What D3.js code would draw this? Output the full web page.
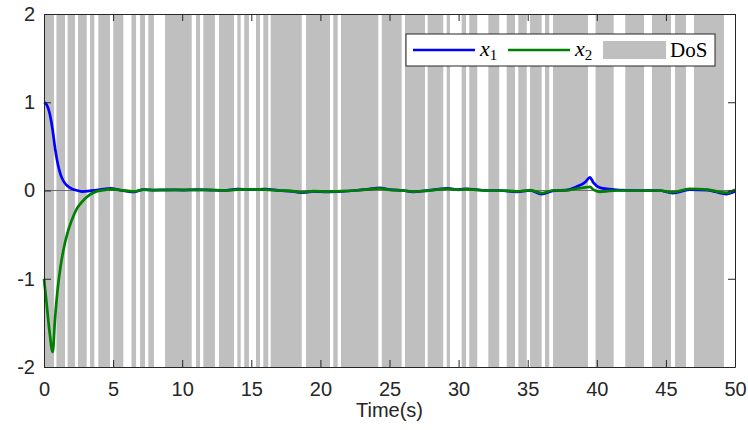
<!DOCTYPE html>
<html>
<head>
<meta charset="utf-8">
<script src="https://cdn.jsdelivr.net/npm/d3@7"></script>
<style>
  body { margin: 0; background: #fff; }
  svg { display: block; }
  .tick text { font-family: "Liberation Sans", Arial, sans-serif; }
</style>
</head>
<body>
<div id="chart"></div>
<script>
// time samples (s)
const time = [0, 0.2, 0.4, 0.63, 0.8, 1.0, 1.2, 1.4, 1.7, 2.0, 2.4, 2.8, 3.3, 3.8, 4.3, 4.8, 5.5, 6.5, 7.2, 8, 9, 10, 11, 12, 13, 14, 15, 16, 17, 18, 18.6, 19.5, 20.5, 21.5, 22.5, 23.5, 24.3, 25, 26, 26.7, 27.5, 28.3, 29.2, 30, 30.6, 31.3, 32, 33, 34.2, 35.2, 36, 36.8, 38, 38.5, 39.2, 39.5, 39.75, 40.2, 40.9, 41.6, 43, 44.5, 45.5, 46.7, 48, 49.4, 50];

// state x1
const x1 = [1.0, 0.97, 0.88, 0.68, 0.48, 0.3, 0.18, 0.11, 0.05, 0.02, 0.0, -0.012, -0.005, 0.005, 0.015, 0.025, 0.005, -0.015, 0.01, 0.005, 0.008, 0.005, 0.01, 0.005, 0.0, 0.015, 0.01, 0.015, 0.0, -0.01, -0.025, -0.01, -0.015, -0.01, 0.0, 0.015, 0.03, 0.01, 0.0, -0.015, -0.005, 0.01, 0.025, 0.01, 0.02, 0.01, 0.0, 0.0, -0.015, 0.0, -0.04, -0.005, 0.01, 0.04, 0.1, 0.15, 0.09, 0.035, 0.015, 0.005, 0.0, 0.0, -0.03, 0.01, 0.005, -0.04, -0.01];

// state x2
const x2 = [-1.0, -1.3, -1.6, -1.83, -1.45, -1.1, -0.86, -0.68, -0.48, -0.34, -0.2, -0.12, -0.05, -0.01, 0.005, 0.015, 0.005, -0.01, 0.01, 0.005, 0.005, 0.008, 0.005, 0.008, 0.0, 0.01, 0.012, 0.01, 0.0, -0.008, -0.02, -0.008, -0.012, -0.008, 0.0, 0.012, 0.025, 0.008, 0.0, -0.012, -0.005, 0.008, 0.02, 0.008, 0.015, 0.008, 0.0, 0.0, -0.01, 0.005, -0.03, 0.0, 0.005, 0.02, 0.035, 0.04, 0.01, -0.015, -0.005, 0.0, 0.0, 0.0, -0.02, 0.02, 0.01, -0.025, 0.01];

// DoS attack intervals (s)
const dosStart = [0, 0.9, 1.71, 2.46, 3.33, 3.93, 5.01, 6.33, 6.95, 7.55, 8.76, 11.0, 11.53, 12.66, 13.99, 14.49, 15.34, 15.87, 16.4, 18.96, 20.93, 21.49, 24.44, 26.12, 27.76, 29.14, 30.22, 30.77, 32.15, 33.48, 34.32, 35.17, 36.25, 36.83, 39.91, 42.06, 43.99, 45.66, 47.03];
const dosEnd = [0.72, 1.52, 2.24, 3.09, 3.64, 4.78, 5.74, 6.66, 7.31, 7.96, 10.69, 11.29, 12.37, 13.75, 14.23, 14.83, 15.63, 16.23, 18.65, 20.69, 21.25, 24.19, 25.88, 27.57, 28.89, 29.38, 30.54, 31.35, 32.94, 34.08, 34.93, 36.01, 36.56, 39.36, 41.22, 43.42, 45.37, 46.45, 49.2];

const xTicks = [0, 5, 10, 15, 20, 25, 30, 35, 40, 45, 50];
const yTicks = [-2, -1, 0, 1, 2];

const width = 748;
const height = 430;
const margin = { top: 14, right: 13, bottom: 63, left: 44 };

const xScale = d3.scaleLinear().domain([0, 50]).range([margin.left, width - margin.right]);
const yScale = d3.scaleLinear().domain([-2, 2]).range([height - margin.bottom, margin.top]);

const svg = d3.select("#chart").append("svg")
    .attr("width", width)
    .attr("height", height);

// DoS bars
svg.append("g").selectAll("rect")
    .data(dosStart.map((s, i) => [s, dosEnd[i]]))
    .enter()
    .append("rect")
    .attr("x", d => xScale(d[0]))
    .attr("width", d => xScale(d[1]) - xScale(d[0]))
    .attr("y", yScale(2))
    .attr("height", yScale(-2) - yScale(2))
    .attr("fill", "#bfbfbf");

// zero line
svg.append("line")
    .attr("x1", xScale(0)).attr("x2", xScale(50))
    .attr("y1", yScale(0)).attr("y2", yScale(0))
    .attr("stroke", "#6e6e6e")
    .attr("stroke-width", 1);

// curves
const series = [
    { name: "x1", values: x1, color: "#0000ff" },
    { name: "x2", values: x2, color: "#008000" }
];
const line = d3.line().curve(d3.curveMonotoneX);
series.forEach(s => {
    svg.append("path")
        .attr("d", line(time.map((t, i) => [xScale(t), yScale(s.values[i])])))
        .attr("fill", "none")
        .attr("stroke", s.color)
        .attr("stroke-width", 2.7)
        .attr("stroke-linejoin", "round");
});

// axes (MATLAB style: ticks inside, box)
const axisColor = "#262626";
const tickLen = 7;
const axBottom = svg.append("g")
    .attr("transform", `translate(0,${yScale(-2)})`)
    .call(d3.axisBottom(xScale).tickValues(xTicks).tickSizeInner(-tickLen).tickSizeOuter(0).tickPadding(15));
const axLeft = svg.append("g")
    .attr("transform", `translate(${xScale(0)},0)`)
    .call(d3.axisLeft(yScale).tickValues(yTicks).tickFormat(d => String(d)).tickSizeInner(-tickLen).tickSizeOuter(0).tickPadding(9));
const axTop = svg.append("g")
    .attr("transform", `translate(0,${yScale(2)})`)
    .call(d3.axisTop(xScale).tickValues(xTicks).tickSizeInner(-tickLen).tickSizeOuter(0).tickFormat(""));
const axRight = svg.append("g")
    .attr("transform", `translate(${xScale(50)},0)`)
    .call(d3.axisRight(yScale).tickValues(yTicks).tickSizeInner(-tickLen).tickSizeOuter(0).tickFormat(""));

[axBottom, axLeft, axTop, axRight].forEach(g => {
    g.select(".domain").attr("stroke", axisColor).attr("stroke-width", 1);
    g.selectAll(".tick line").attr("stroke", axisColor);
    g.selectAll(".tick text").attr("fill", axisColor).style("font-size", "20px");
});

// x label
svg.append("text")
    .attr("x", (xScale(0) + xScale(50)) / 2)
    .attr("y", 417)
    .attr("text-anchor", "middle")
    .attr("fill", axisColor)
    .style("font-family", "Liberation Sans, Arial, sans-serif")
    .style("font-size", "20px")
    .text("Time(s)");

// legend
const legend = svg.append("g").attr("transform", "translate(406,34)");
legend.append("rect")
    .attr("width", 309).attr("height", 32)
    .attr("fill", "#fff")
    .attr("stroke", axisColor)
    .attr("stroke-width", 1);

const serifFont = "Liberation Serif, 'Times New Roman', serif";
series.forEach((s, i) => {
    const x0 = 7 + i * 95;
    legend.append("line")
        .attr("x1", x0).attr("x2", x0 + 62)
        .attr("y1", 16).attr("y2", 16)
        .attr("stroke", s.color)
        .attr("stroke-width", 2.7);
    const t = legend.append("text")
        .attr("x", x0 + 67).attr("y", 22)
        .style("font-family", serifFont)
        .style("font-size", "22px")
        .attr("fill", "#000");
    t.append("tspan").style("font-style", "italic").text("x");
    t.append("tspan").attr("dy", 4).style("font-size", "15px").text(s.name.slice(1));
});
legend.append("rect")
    .attr("x", 197).attr("y", 7)
    .attr("width", 63).attr("height", 18)
    .attr("fill", "#bfbfbf");
legend.append("text")
    .attr("x", 264).attr("y", 23)
    .style("font-family", serifFont)
    .style("font-size", "21px")
    .attr("fill", "#000")
    .text("DoS");
</script>
</body>
</html>
